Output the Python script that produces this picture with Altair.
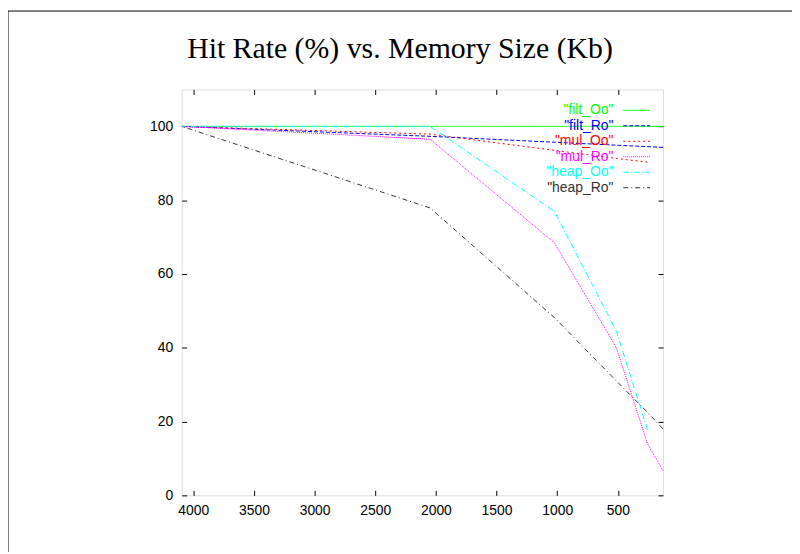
import altair as alt
import pandas as pd

title_text = "Hit Rate (%) vs. Memory Size (Kb)"
sizes = [4096, 2048, 1024, 512, 256, 128]
series_names = ["filt_Oo", "filt_Ro", "mul_Oo", "mul_Ro", "heap_Oo", "heap_Ro"]
filt_Oo = [100, 100, 100, 100, 100, 100]
filt_Ro = [100, 97.3, 95.7, 94.9, 94.5, 94.3]
mul_Oo = [100, 97.9, 93.5, 91.3, 90.3, None]
mul_Ro = [100, 96.5, 68.5, 40, 14, 6.7]
heap_Oo = [100, 100, 77, 44.5, 17.8, None]
heap_Ro = [100, 77.9, 48.2, 31, 22.5, 18]
colors = ["#00ff00", "#0000ff", "#ff0000", "#ff00ff", "#00ffff", "#333333"]
dashes = [[1, 0], [4, 2], [2, 3], [1, 1], [6, 2, 1, 2], [5, 3, 1, 3]]
x_ticks = [4000, 3500, 3000, 2500, 2000, 1500, 1000, 500]
y_ticks = [0, 20, 40, 60, 80, 100]

values = [filt_Oo, filt_Ro, mul_Oo, mul_Ro, heap_Oo, heap_Ro]
rows = []
for name, vals in zip(series_names, values):
    for s, v in zip(sizes, vals):
        if v is not None:
            rows.append({"size": s, "rate": v, "series": name})
df = pd.DataFrame(rows)
legend_df = pd.DataFrame({"series": series_names,
                          "label": ['"%s"' % n for n in series_names]})

FONT = "Liberation Sans"
W, H = 485, 409

color_enc = alt.Color("series:N", scale=alt.Scale(domain=series_names, range=colors), legend=None)
dash_enc = alt.StrokeDash("series:N", scale=alt.Scale(domain=series_names, range=dashes), legend=None)

def axis(orient, labels=True, pad=8):
    return alt.Axis(orient=orient, values=x_ticks if orient in ("top", "bottom") else y_ticks,
                    labels=labels, format="d", tickSize=alt.ExprRef("-5"), domain=False, grid=False,
                    labelPadding=pad, labelFontSize=14, labelFont=FONT, labelColor="black",
                    tickColor="black", tickWidth=1, title=None)

xscale = alt.Scale(domain=[128, 4096], reverse=True, nice=False, zero=False)
yscale = alt.Scale(domain=[0, 110], nice=False)

lines = alt.Chart(df).mark_line(strokeWidth=1).encode(
    x=alt.X("size:Q", scale=xscale, axis=axis("bottom", pad=13)),
    y=alt.Y("rate:Q", scale=yscale, axis=axis("left", pad=14)),
    color=color_enc, strokeDash=dash_enc, order="size:Q", detail="series:N")

ghost = alt.Chart(df).mark_line(strokeOpacity=0).encode(
    x=alt.X("size:Q", scale=xscale, axis=axis("top", labels=False)),
    y=alt.Y("rate:Q", scale=yscale, axis=axis("right", labels=False)),
    detail="series:N")

main = alt.layer(lines, ghost).resolve_scale(x="independent", y="independent").resolve_axis(
    x="independent", y="independent")

leg_y = alt.Y("series:N", scale=alt.Scale(type="point", domain=series_names, range=[21, 99], padding=0), axis=None)
leg_text = alt.Chart(legend_df).mark_text(align="right", baseline="middle", fontSize=14, font=FONT).encode(
    x=alt.value(435), y=leg_y, text="label:N", color=color_enc)
leg_rule = alt.Chart(legend_df).mark_rule(strokeWidth=1).encode(
    x=alt.value(445), x2=alt.value(472), y=leg_y, color=color_enc, strokeDash=dash_enc)
legend = alt.layer(leg_text, leg_rule)

one = pd.DataFrame({"t": [title_text]})
title = alt.Chart(one).mark_text(align="center", baseline="alphabetic", fontSize=30,
                                 font="Liberation Serif", color="black").encode(
    x=alt.value(220), y=alt.value(-32), text="t:N")
frame_left = alt.Chart(one).mark_rule(color="black", strokeWidth=1).encode(
    x=alt.value(-175), y=alt.value(-79), y2=alt.value(480))
frame_top = alt.Chart(one).mark_rule(color="black", strokeWidth=1).encode(
    x=alt.value(-175), x2=alt.value(640), y=alt.value(-79))

chart = alt.layer(main, legend, title, frame_left, frame_top).resolve_scale(y="independent").properties(
    width=W, height=H, autosize="none",
    padding={"left": 175, "top": 80, "right": 130, "bottom": 55}
).configure_view(stroke="black", strokeWidth=1).configure(background="white")

chart.save("out.html", embed_options={"renderer": "svg", "actions": False})
